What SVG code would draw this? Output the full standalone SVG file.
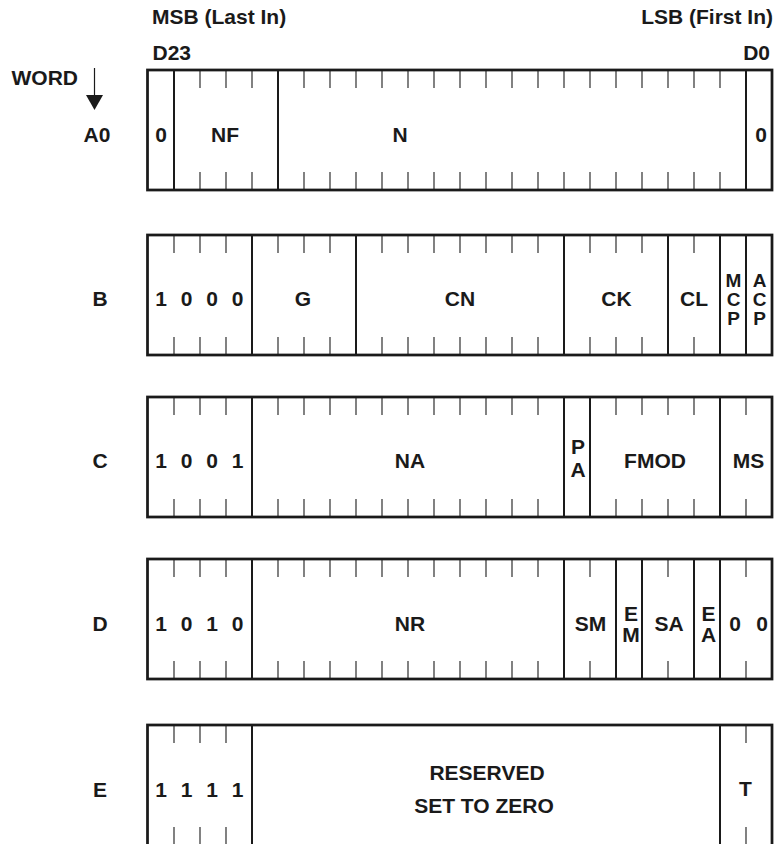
<svg xmlns="http://www.w3.org/2000/svg" xmlns:xlink="http://www.w3.org/1999/xlink" width="776" height="844" viewBox="0 0 776 844">
<style>
  text { font-family: "Liberation Sans", Arial, sans-serif; font-weight: bold; font-size: 21px; fill: #1a1a1a; }
  .m { text-anchor: middle; }
  .e { text-anchor: end; }
  .st { font-size: 19px; }
  .box { fill: #fff; stroke: #1a1a1a; stroke-width: 2.75; }
  .sep { stroke: #1a1a1a; stroke-width: 2; }
  .tk { stroke: #1a1a1a; stroke-width: 1.1; }
</style>
<defs>
  <g id="tick" class="tk">
    <line x1="0" y1="0" x2="0" y2="18"/>
    <line x1="0" y1="102" x2="0" y2="120"/>
  </g>
</defs>
<rect width="776" height="844" fill="#fff"/>

<g id="header">
  <text x="152" y="24">MSB (Last In)</text>
  <text x="773" y="24" class="e">LSB (First In)</text>
  <text x="152.5" y="60">D23</text>
  <text x="770" y="60" class="e">D0</text>
  <text x="11.5" y="85">WORD</text>
</g>

<g id="connectors">
  <line x1="94.5" y1="68" x2="94.5" y2="96" stroke="#1a1a1a" stroke-width="1.2"/>
  <polygon points="86,95 103,95 94.5,110" fill="#1a1a1a"/>
</g>

<!-- Row A0 -->
<g id="row-A0">
  <text x="97" y="141.5" class="m">A0</text>
  <rect class="box" x="147.5" y="70" width="624.5" height="120"/>
  <g class="sep">
    <line x1="174" y1="70" x2="174" y2="190"/>
    <line x1="278" y1="70" x2="278" y2="190"/>
    <line x1="746" y1="70" x2="746" y2="190"/>
  </g>
  <use xlink:href="#tick" x="200" y="70"/><use xlink:href="#tick" x="226" y="70"/><use xlink:href="#tick" x="252" y="70"/>
  <use xlink:href="#tick" x="304" y="70"/><use xlink:href="#tick" x="330" y="70"/><use xlink:href="#tick" x="356" y="70"/>
  <use xlink:href="#tick" x="382" y="70"/><use xlink:href="#tick" x="408" y="70"/><use xlink:href="#tick" x="434" y="70"/>
  <use xlink:href="#tick" x="460" y="70"/><use xlink:href="#tick" x="486" y="70"/><use xlink:href="#tick" x="512" y="70"/>
  <use xlink:href="#tick" x="538" y="70"/><use xlink:href="#tick" x="564" y="70"/><use xlink:href="#tick" x="590" y="70"/>
  <use xlink:href="#tick" x="616" y="70"/><use xlink:href="#tick" x="642" y="70"/><use xlink:href="#tick" x="668" y="70"/>
  <use xlink:href="#tick" x="694" y="70"/><use xlink:href="#tick" x="720" y="70"/>
  <text x="161" y="141.5" class="m">0</text>
  <text x="225" y="141.5" class="m">NF</text>
  <text x="400" y="141.5" class="m">N</text>
  <text x="761" y="141.5" class="m">0</text>
</g>

<!-- Row B -->
<g id="row-B">
  <text x="100" y="306" class="m">B</text>
  <rect class="box" x="147.5" y="235" width="624.5" height="120"/>
  <g class="sep">
    <line x1="252" y1="235" x2="252" y2="355"/>
    <line x1="356" y1="235" x2="356" y2="355"/>
    <line x1="564" y1="235" x2="564" y2="355"/>
    <line x1="668" y1="235" x2="668" y2="355"/>
    <line x1="720" y1="235" x2="720" y2="355"/>
    <line x1="746" y1="235" x2="746" y2="355"/>
  </g>
  <use xlink:href="#tick" x="174" y="235"/><use xlink:href="#tick" x="200" y="235"/><use xlink:href="#tick" x="226" y="235"/>
  <use xlink:href="#tick" x="278" y="235"/><use xlink:href="#tick" x="304" y="235"/><use xlink:href="#tick" x="330" y="235"/>
  <use xlink:href="#tick" x="382" y="235"/><use xlink:href="#tick" x="408" y="235"/><use xlink:href="#tick" x="434" y="235"/>
  <use xlink:href="#tick" x="460" y="235"/><use xlink:href="#tick" x="486" y="235"/><use xlink:href="#tick" x="512" y="235"/>
  <use xlink:href="#tick" x="538" y="235"/>
  <use xlink:href="#tick" x="590" y="235"/><use xlink:href="#tick" x="616" y="235"/><use xlink:href="#tick" x="642" y="235"/>
  <use xlink:href="#tick" x="694" y="235"/>
  <text x="161" y="306" class="m">1</text>
  <text x="186.5" y="306" class="m">0</text>
  <text x="212" y="306" class="m">0</text>
  <text x="237.5" y="306" class="m">0</text>
  <text x="303" y="306" class="m">G</text>
  <text x="460" y="306" class="m">CN</text>
  <text x="616.5" y="306" class="m">CK</text>
  <text x="694" y="306" class="m">CL</text>
  <text x="733.5" y="286.5" class="m st">M</text>
  <text x="733.5" y="306" class="m st">C</text>
  <text x="733.5" y="325" class="m st">P</text>
  <text x="759.5" y="286.5" class="m st">A</text>
  <text x="759.5" y="306" class="m st">C</text>
  <text x="759.5" y="325" class="m st">P</text>
</g>

<!-- Row C -->
<g id="row-C">
  <text x="100" y="468" class="m">C</text>
  <rect class="box" x="147.5" y="397" width="624.5" height="120"/>
  <g class="sep">
    <line x1="252" y1="397" x2="252" y2="517"/>
    <line x1="564" y1="397" x2="564" y2="517"/>
    <line x1="590" y1="397" x2="590" y2="517"/>
    <line x1="720" y1="397" x2="720" y2="517"/>
  </g>
  <use xlink:href="#tick" x="174" y="397"/><use xlink:href="#tick" x="200" y="397"/><use xlink:href="#tick" x="226" y="397"/>
  <use xlink:href="#tick" x="278" y="397"/><use xlink:href="#tick" x="304" y="397"/><use xlink:href="#tick" x="330" y="397"/>
  <use xlink:href="#tick" x="356" y="397"/><use xlink:href="#tick" x="382" y="397"/><use xlink:href="#tick" x="408" y="397"/>
  <use xlink:href="#tick" x="434" y="397"/><use xlink:href="#tick" x="460" y="397"/><use xlink:href="#tick" x="486" y="397"/>
  <use xlink:href="#tick" x="512" y="397"/><use xlink:href="#tick" x="538" y="397"/>
  <use xlink:href="#tick" x="616" y="397"/><use xlink:href="#tick" x="642" y="397"/><use xlink:href="#tick" x="668" y="397"/>
  <use xlink:href="#tick" x="694" y="397"/>
  <use xlink:href="#tick" x="746" y="397"/>
  <text x="161" y="468" class="m">1</text>
  <text x="186.5" y="468" class="m">0</text>
  <text x="212" y="468" class="m">0</text>
  <text x="237.5" y="468" class="m">1</text>
  <text x="410" y="468" class="m">NA</text>
  <text x="578" y="454" class="m">P</text>
  <text x="578" y="477" class="m">A</text>
  <text x="655" y="468" class="m">FMOD</text>
  <text x="748.5" y="468" class="m">MS</text>
</g>

<!-- Row D -->
<g id="row-D">
  <text x="100" y="630.5" class="m">D</text>
  <rect class="box" x="147.5" y="559" width="624.5" height="120"/>
  <g class="sep">
    <line x1="252" y1="559" x2="252" y2="679"/>
    <line x1="564" y1="559" x2="564" y2="679"/>
    <line x1="616" y1="559" x2="616" y2="679"/>
    <line x1="642" y1="559" x2="642" y2="679"/>
    <line x1="694" y1="559" x2="694" y2="679"/>
    <line x1="720" y1="559" x2="720" y2="679"/>
  </g>
  <use xlink:href="#tick" x="174" y="559"/><use xlink:href="#tick" x="200" y="559"/><use xlink:href="#tick" x="226" y="559"/>
  <use xlink:href="#tick" x="278" y="559"/><use xlink:href="#tick" x="304" y="559"/><use xlink:href="#tick" x="330" y="559"/>
  <use xlink:href="#tick" x="356" y="559"/><use xlink:href="#tick" x="382" y="559"/><use xlink:href="#tick" x="408" y="559"/>
  <use xlink:href="#tick" x="434" y="559"/><use xlink:href="#tick" x="460" y="559"/><use xlink:href="#tick" x="486" y="559"/>
  <use xlink:href="#tick" x="512" y="559"/><use xlink:href="#tick" x="538" y="559"/>
  <use xlink:href="#tick" x="590" y="559"/>
  <use xlink:href="#tick" x="668" y="559"/>
  <use xlink:href="#tick" x="746" y="559"/>
  <text x="161" y="630.5" class="m">1</text>
  <text x="186.5" y="630.5" class="m">0</text>
  <text x="212" y="630.5" class="m">1</text>
  <text x="237.5" y="630.5" class="m">0</text>
  <text x="410" y="630.5" class="m">NR</text>
  <text x="590.5" y="630.5" class="m">SM</text>
  <text x="631" y="621" class="m">E</text>
  <text x="631" y="642" class="m">M</text>
  <text x="669" y="630.5" class="m">SA</text>
  <text x="708.5" y="621" class="m">E</text>
  <text x="708.5" y="642" class="m">A</text>
  <text x="735" y="630.5" class="m">0</text>
  <text x="762" y="630.5" class="m">0</text>
</g>

<!-- Row E -->
<g id="row-E">
  <text x="100" y="797" class="m">E</text>
  <rect class="box" x="147.5" y="725" width="624.5" height="121"/>
  <g class="sep">
    <line x1="252" y1="725" x2="252" y2="846"/>
    <line x1="720" y1="725" x2="720" y2="846"/>
  </g>
  <use xlink:href="#tick" x="174" y="725"/><use xlink:href="#tick" x="200" y="725"/><use xlink:href="#tick" x="226" y="725"/>
  <use xlink:href="#tick" x="746" y="725"/>
  <text x="161" y="797" class="m">1</text>
  <text x="186.5" y="797" class="m">1</text>
  <text x="212" y="797" class="m">1</text>
  <text x="237.5" y="797" class="m">1</text>
  <text x="487" y="780" class="m">RESERVED</text>
  <text x="484" y="813" class="m">SET TO ZERO</text>
  <text x="745.5" y="796" class="m">T</text>
</g>
</svg>
